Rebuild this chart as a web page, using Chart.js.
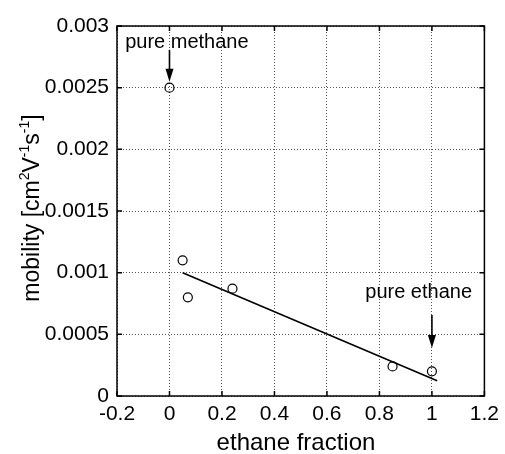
<!DOCTYPE html>
<html>
<head>
<meta charset="utf-8">
<script src="https://cdn.jsdelivr.net/npm/chart.js@4/dist/chart.umd.min.js"></script>
<style>
html,body{margin:0;padding:0;background:#fff;}
canvas{display:block;}
</style>
</head>
<body>
<canvas id="c" width="505" height="454"></canvas>
<script>
// ---- data ----
const ethaneFraction = [0, 0.05, 0.07, 0.24, 0.85, 1.0];
const mobility = [0.0025, 0.0011, 0.0008, 0.00087, 0.00024, 0.0002];
const fitX = [0.05, 1.02];
const fitY = [0.001, 0.000124];
const xTickLabels = ['-0.2', '0', '0.2', '0.4', '0.6', '0.8', '1', '1.2'];
const yTickLabels = ['0', '0.0005', '0.001', '0.0015', '0.002', '0.0025', '0.003'];
const xTitle = 'ethane fraction';
const yTitleParts = [['mobility [cm', 0], ['2', 1], ['V', 0], ['-1', 1], ['s', 0], ['-1', 1], [']', 0]];
const notes = [
  {text: 'pure methane', x: -0.169, y: 0.00282, arrowX: 0, arrowFrom: 0.002806, arrowTo: 0.002547},
  {text: 'pure ethane', x: 0.746, y: 0.000795, arrowX: 1.0, arrowFrom: 0.000657, arrowTo: 0.000389}
];

const FONT = '"Liberation Sans", Arial, sans-serif';

const decor = {
  id: 'decor',
  afterDraw(chart) {
    const ctx = chart.ctx;
    const a = chart.chartArea;
    const xs = chart.scales.x, ys = chart.scales.y;
    ctx.save();
    // frame
    ctx.strokeStyle = '#000';
    ctx.lineWidth = 1.5;
    ctx.setLineDash([]);
    ctx.strokeRect(a.left, a.top, a.right - a.left, a.bottom - a.top);
    // inward ticks
    ctx.lineWidth = 1.5;
    const tl = 5;
    ctx.beginPath();
    xs.ticks.forEach(t => {
      const px = xs.getPixelForValue(t.value);
      ctx.moveTo(px, a.bottom); ctx.lineTo(px, a.bottom - tl);
      ctx.moveTo(px, a.top); ctx.lineTo(px, a.top + tl);
    });
    ys.ticks.forEach(t => {
      const py = ys.getPixelForValue(t.value);
      ctx.moveTo(a.left, py); ctx.lineTo(a.left + tl, py);
      ctx.moveTo(a.right, py); ctx.lineTo(a.right - tl, py);
    });
    ctx.stroke();
    // annotations
    ctx.fillStyle = '#000';
    ctx.font = '20px ' + FONT;
    ctx.textAlign = 'left';
    ctx.textBaseline = 'alphabetic';
    notes.forEach(n => {
      ctx.fillText(n.text, xs.getPixelForValue(n.x), ys.getPixelForValue(n.y));
      const ax = xs.getPixelForValue(n.arrowX);
      const y0 = ys.getPixelForValue(n.arrowFrom);
      const y1 = ys.getPixelForValue(n.arrowTo);
      ctx.lineWidth = 1.6;
      ctx.beginPath();
      ctx.moveTo(ax, y0); ctx.lineTo(ax, y1 - 10);
      ctx.stroke();
      ctx.beginPath();
      ctx.moveTo(ax - 4, y1 - 13);
      ctx.lineTo(ax + 4, y1 - 13);
      ctx.lineTo(ax, y1);
      ctx.closePath();
      ctx.fill();
    });
    // x title
    ctx.font = '24px ' + FONT;
    ctx.textAlign = 'center';
    ctx.fillText(xTitle, 296, 450);
    // y title with superscripts
    const big = '23px ' + FONT, small = '14px ' + FONT;
    let total = 0;
    yTitleParts.forEach(p => { ctx.font = p[1] ? small : big; total += ctx.measureText(p[0]).width; });
    ctx.translate(39, 208);
    ctx.rotate(-Math.PI / 2);
    ctx.textAlign = 'left';
    let cx = -total / 2;
    yTitleParts.forEach(p => {
      ctx.font = p[1] ? small : big;
      ctx.fillText(p[0], cx, p[1] ? -10 : 0);
      cx += ctx.measureText(p[0]).width;
    });
    ctx.restore();
  }
};

new Chart(document.getElementById('c'), {
  type: 'scatter',
  data: {
    datasets: [
      {
        data: ethaneFraction.map((x, i) => ({x: x, y: mobility[i]})),
        pointStyle: 'circle',
        pointRadius: 4.5,
        borderColor: '#000',
        backgroundColor: 'rgba(0,0,0,0)',
        borderWidth: 1.2,
        showLine: false
      },
      {
        data: fitX.map((x, i) => ({x: x, y: fitY[i]})),
        showLine: true,
        borderColor: '#000',
        borderWidth: 1.6,
        pointRadius: 0,
        fill: false
      }
    ]
  },
  plugins: [decor],
  options: {
    responsive: false,
    devicePixelRatio: 1,
    animation: false,
    layout: {padding: {top: 26, right: 16, left: 0, bottom: 0}},
    plugins: {legend: {display: false}, tooltip: {enabled: false}},
    scales: {
      x: {
        type: 'linear', min: -0.2, max: 1.2,
        ticks: {stepSize: 0.2, color: '#000', padding: 6, maxRotation: 0,
          font: {size: 21, family: FONT},
          callback: (v, i) => xTickLabels[i]},
        grid: {color: '#555', lineWidth: 1, drawTicks: false, tickLength: 0},
        border: {display: false, dash: [1, 2]},
        afterFit: s => { s.height = 58; }
      },
      y: {
        type: 'linear', min: 0, max: 0.003,
        ticks: {stepSize: 0.0005, color: '#000', padding: 8,
          font: {size: 21, family: FONT},
          callback: (v, i) => yTickLabels[i]},
        grid: {color: '#555', lineWidth: 1, drawTicks: false, tickLength: 0},
        border: {display: false, dash: [1, 2]},
        afterFit: s => { s.width = 117; }
      }
    }
  }
});
</script>
</body>
</html>
